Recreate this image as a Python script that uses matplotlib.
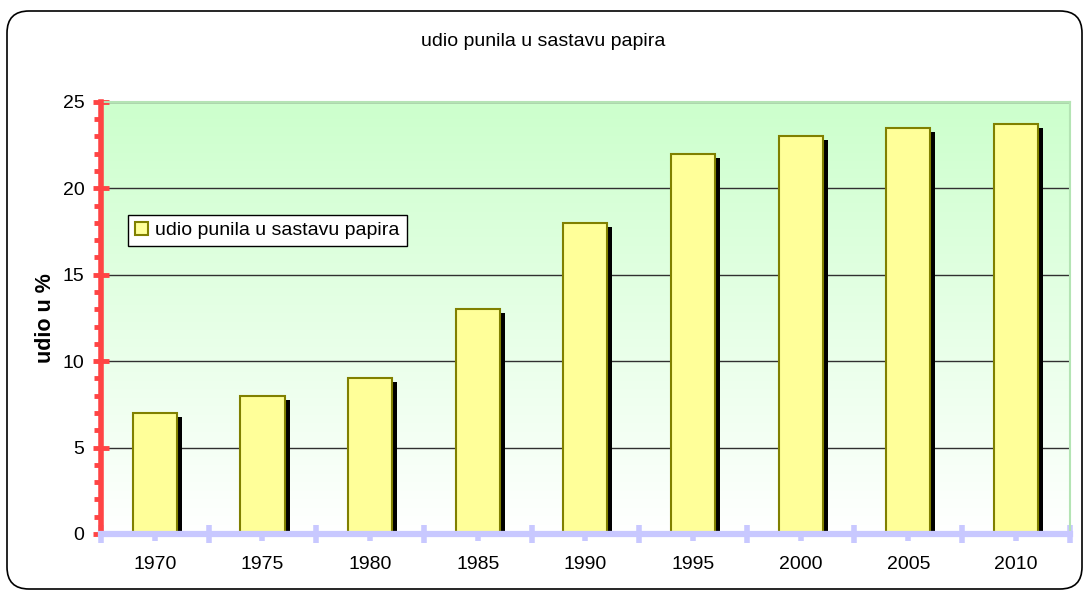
import numpy as np
import matplotlib
matplotlib.use('Agg')
import matplotlib.pyplot as plt
from matplotlib.patches import FancyBboxPatch
from matplotlib.ticker import MultipleLocator, FixedLocator
import matplotlib.transforms as mtransforms

plt.rcParams['font.family'] = ['Liberation Sans', 'DejaVu Sans']

godine = ['1970', '1975', '1980', '1985', '1990', '1995', '2000', '2005', '2010']
udio = [7, 8, 9, 13, 18, 22, 23, 23.5, 23.7]
naziv = 'udio punila u sastavu papira'

fig = plt.figure(figsize=(10.86, 5.92), dpi=100)
ax = fig.add_axes([0.093, 0.098, 0.892, 0.73])

x = np.arange(len(godine))

# pozadina: prijelaz iz svijetlo zelene u bijelu
grad = np.linspace(1, 0, 256).reshape(-1, 1)
top = np.array([0.80, 1.0, 0.80])
bot = np.array([1.0, 1.0, 1.0])
img = bot + grad[..., None] * (top - bot)
ax.imshow(img, extent=[0, 1, 0, 1], transform=ax.transAxes, aspect='auto', zorder=0)

ax.set_xlim(-0.5, len(godine) - 0.5)
ax.set_ylim(0, 25)

ax.yaxis.grid(True, color='#303030', linewidth=1)
ax.set_axisbelow(True)

# sjena stupaca
sjena = ax.transData + mtransforms.ScaledTranslation(5 / 100, -4 / 100, fig.dpi_scale_trans)
ax.bar(x, udio, width=0.41, color='black', transform=sjena, zorder=2)
ax.bar(x, udio, width=0.41, color='#FFFF99', edgecolor='#808000', linewidth=1.5,
       label=naziv, zorder=3)

# y os
ax.yaxis.set_major_locator(MultipleLocator(5))
ax.yaxis.set_minor_locator(MultipleLocator(1))
ax.tick_params(axis='y', which='major', direction='inout', length=12, width=3.5,
               color='#FF4444', labelsize=14, pad=6)
ax.tick_params(axis='y', which='minor', direction='out', length=5, width=3.5, color='#FF4444')

# x os
ax.set_xticks(x)
ax.set_xticklabels(godine)
ax.xaxis.set_minor_locator(FixedLocator(np.arange(-0.5, len(godine), 1)))
ax.tick_params(axis='x', which='major', direction='inout', length=10, width=4,
               color='#C8C8FF', labelsize=14, pad=11)
ax.tick_params(axis='x', which='minor', direction='inout', length=13, width=4, color='#C8C8FF')

ax.spines['left'].set_color('#FF4444')
ax.spines['left'].set_linewidth(4)
ax.spines['left'].set_zorder(5)
ax.spines['bottom'].set_color('#C8C8FF')
ax.spines['bottom'].set_linewidth(4.5)
ax.spines['bottom'].set_zorder(5)
for s in ['top', 'right']:
    ax.spines[s].set_color('#B4E4B4')
    ax.spines[s].set_linewidth(1.5)

ax.set_ylabel('udio u %', fontsize=15.5, fontweight='bold', labelpad=5)

leg = ax.legend(loc='upper left', bbox_to_anchor=(0.028, 0.738), borderaxespad=0,
                fontsize=14, fancybox=False, edgecolor='black', framealpha=1,
                handlelength=0.65, handleheight=0.65, handletextpad=0.4, borderpad=0.35)
leg.get_frame().set_linewidth(1)

fig.text(0.5, 1 - 42 / 592, naziv, ha='center', va='center', fontsize=14)

okvir = FancyBboxPatch((0.07, 0.03), 10.82 - 0.07, 5.81 - 0.03,
                       boxstyle='round,pad=0,rounding_size=0.22',
                       transform=fig.dpi_scale_trans, facecolor='none',
                       edgecolor='black', linewidth=1.2)
fig.patches.append(okvir)

fig.savefig('out.png', dpi=100)
